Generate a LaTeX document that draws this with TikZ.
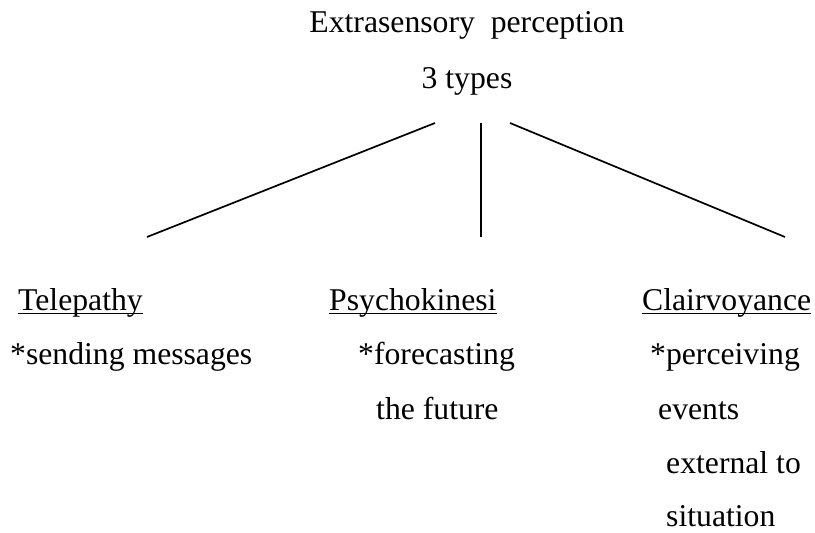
\documentclass[tikz,border=0pt]{standalone}
\usepackage{fontspec}
\setmainfont{Liberation Serif}
\usepackage{tikz}
\usetikzlibrary{positioning}

\tikzset{
  word/.style={inner sep=0pt,anchor=base west,font=\fontsize{31.7}{38}\selectfont},
  branch/.style={line width=1.7pt},
  uline/.style={line width=1.5pt}
}

\begin{document}
\begin{tikzpicture}[x=1pt,y=-1pt]
		\useasboundingbox (0,0) rectangle (815,533);
		% title
		\node[word,anchor=base] (title) at (467,32) {Extrasensory\ \ perception};
		\node[word,anchor=base] (types) at (467,88) {3 types};
		% branch ends
		\coordinate (l top) at (435,123);
		\coordinate (m top) at (481,123);
		\coordinate (r top) at (510,123);
		\coordinate (l end) at (147,237);
		\coordinate (m end) at (481,237);
		\coordinate (r end) at (785,237);
		\draw[branch] (l top) -- (l end);
		\draw[branch] (m top) -- (m end);
		\draw[branch] (r top) -- (r end);
		% telepathy
		\node[word] (tele) at (18,310) {Telepathy};
		\node[word] (tele1) at (10,364) {*sending messages};
		% psychokinesi
		\node[word] (psy) at (329,310) {Psychokinesi};
		\node[word] (psy1) at (358,364) {*forecasting};
		\node[word] (psy2) at (376,419) {the future};
		% clairvoyance
		\node[word] (clair) at (642,310) {Clairvoyance};
		\node[word] (clair1) at (650,364) {*perceiving};
		\node[word] (clair2) at (658,419) {events};
		\node[word] (clair3) at (666,473) {external to};
		\node[word,text depth=0pt] (clair4) at (666,526) {situation};
		% underlines
		\foreach \n in {tele,psy,clair}
			\draw[uline] ([yshift=-3.5pt]\n.base west) -- ([yshift=-3.5pt]\n.base east);
	\end{tikzpicture}
\end{document}
